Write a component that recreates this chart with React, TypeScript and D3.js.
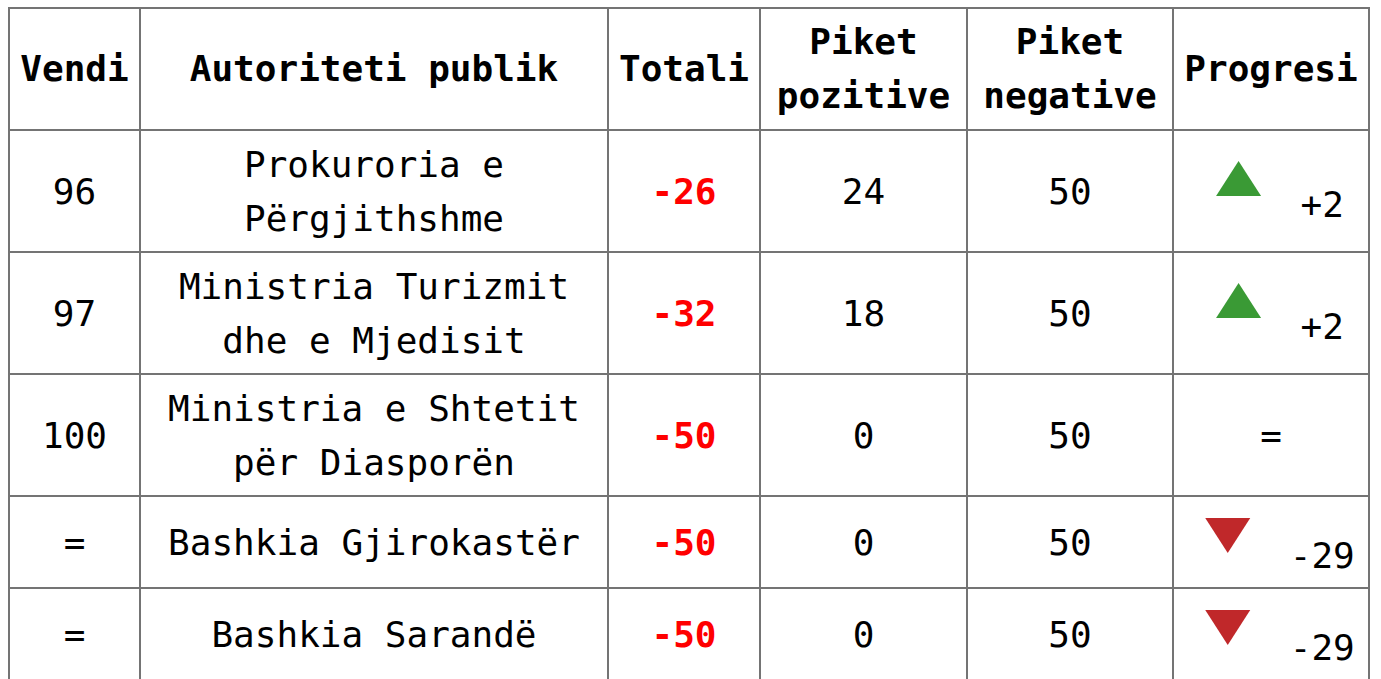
import React from "react";
import * as d3 from "d3";

const headers: string[][] = [["Vendi"], ["Autoriteti publik"], ["Totali"], ["Piket", "pozitive"], ["Piket", "negative"], ["Progresi"]];
const ranks = ["96", "97", "100", "=", "="];
const authorities: string[][] = [
  ["Prokuroria e", "Përgjithshme"],
  ["Ministria Turizmit", "dhe e Mjedisit"],
  ["Ministria e Shtetit", "për Diasporën"],
  ["Bashkia Gjirokastër"],
  ["Bashkia Sarandë"],
];
const totals = [-26, -32, -50, -50, -50];
const positives = [24, 18, 0, 0, 0];
const negatives = [50, 50, 50, 50, 50];
const progress = [2, 2, 0, -29, -29];

const W = 1381;
const H = 679;
const colEdges = [9, 140, 608, 760, 967, 1173, 1369];
const rowEdges = [8, 130, 252, 374, 496, 588, 680];
const FONT = "'DejaVu Sans Mono', monospace";
const FS = 36;
const LH = 54;
const CHAR = FS * 0.602;

function fmtProgress(v: number) {
  if (v > 0) return "+" + v;
  if (v < 0) return "-" + Math.abs(v);
  return "=";
}

function MultiLine({ lines, x, cy, bold, fill }: { lines: string[]; x: number; cy: number; bold?: boolean; fill?: string }) {
  const n = lines.length;
  return (
    <>
      {lines.map((l, i) => (
        <text
          key={i}
          x={x}
          y={cy + (i - (n - 1) / 2) * LH}
          dy="0.36em"
          textAnchor="middle"
          fontFamily={FONT}
          fontSize={FS}
          fontWeight={bold ? "bold" : "normal"}
          fill={fill || "#000"}
        >
          {l}
        </text>
      ))}
    </>
  );
}

export default function App() {
  const colCenter = (i: number) => (colEdges[i] + colEdges[i + 1]) / 2;
  const rowCenter = (i: number) => (rowEdges[i] + rowEdges[i + 1]) / 2;
  const fmtSigned = (v: number) => d3.format("d")(v).replace("\u2212", "-");

  return (
    <div style={{ position: "absolute", left: 0, top: 0 }}>
      <svg width={W} height={H} style={{ display: "block" }}>
        <rect x={0} y={0} width={W} height={H} fill="#fff" />
        {headers.map((h, i) => (
          <MultiLine key={"h" + i} lines={h} x={colCenter(i)} cy={rowCenter(0) - 1} bold />
        ))}
        {ranks.map((r, i) => {
          const ri = i + 1;
          const cy = rowCenter(ri);
          const p = progress[i];
          const label = fmtProgress(p);
          let prog: React.ReactNode;
          if (p === 0) {
            prog = <MultiLine lines={["="]} x={colCenter(5)} cy={cy} />;
          } else {
            const total = 84.5 + label.length * CHAR;
            const start = colCenter(5) + 9 - total / 2;
            const up = p > 0;
            const triTop = up ? cy - 30 : cy - 24;
            const tw = 45;
            const th = 35;
            const pts = up
              ? [[start, triTop + th], [start + tw / 2, triTop], [start + tw, triTop + th]]
              : [[start, triTop], [start + tw, triTop], [start + tw / 2, triTop + th]];
            prog = (
              <>
                <polygon points={pts.map((q) => q.join(",")).join(" ")} fill={up ? "#3a9a35" : "#c0282a"} />
                <text x={start + 84.5} y={cy + 26} fontFamily={FONT} fontSize={FS} fill="#000">
                  {label}
                </text>
              </>
            );
          }
          return (
            <g key={"r" + i}>
              <MultiLine lines={[r]} x={colCenter(0)} cy={cy} />
              <MultiLine lines={authorities[i]} x={colCenter(1)} cy={cy} />
              <MultiLine lines={[fmtSigned(totals[i])]} x={colCenter(2)} cy={cy} bold fill="#ff0000" />
              <MultiLine lines={[String(positives[i])]} x={colCenter(3)} cy={cy} />
              <MultiLine lines={[String(negatives[i])]} x={colCenter(4)} cy={cy} />
              {prog}
            </g>
          );
        })}
        {colEdges.map((x, i) => (
          <line key={"v" + i} x1={x} x2={x} y1={rowEdges[0]} y2={rowEdges[rowEdges.length - 1]} stroke="#747474" strokeWidth={2} />
        ))}
        {rowEdges.map((y, i) => (
          <line key={"hl" + i} x1={colEdges[0] - 1} x2={colEdges[colEdges.length - 1] + 1} y1={y} y2={y} stroke="#747474" strokeWidth={2} />
        ))}
      </svg>
    </div>
  );
}
